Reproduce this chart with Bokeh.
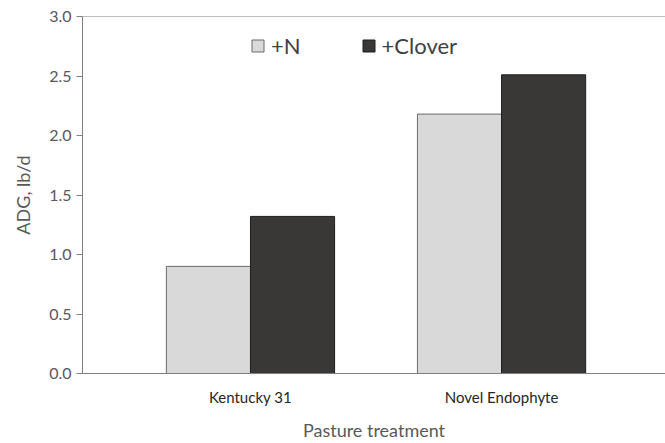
from bokeh.plotting import figure
from bokeh.models import ColumnDataSource, Legend, LegendItem, Span, FixedTicker, NumeralTickFormatter, Range1d
from bokeh.embed import file_html
from bokeh.resources import INLINE

categories = ["Kentucky 31", "Novel Endophyte"]
series_names = ["+N", "+Clover"]
n_values = [0.90, 2.18]
clover_values = [1.32, 2.51]
y_ticks = [0.0, 0.5, 1.0, 1.5, 2.0, 2.5, 3.0]

FONT = "Lato"
GRAY = "#595959"

xpos = [1, 2]
bw = 0.335
src = ColumnDataSource(dict(
    xn=[x - bw / 2 for x in xpos],
    xc=[x + bw / 2 for x in xpos],
    n=n_values,
    c=clover_values,
))

p = figure(width=665, height=443, output_backend="svg", toolbar_location=None,
           x_range=Range1d(0.331, 2.653), y_range=Range1d(0, 3.0),
           min_border_left=82, min_border_right=0, min_border_top=16, min_border_bottom=70)
p.outline_line_color = None
p.grid.grid_line_color = None
p.background_fill_color = "white"
p.border_fill_color = "white"

r1 = p.vbar(x="xn", top="n", width=bw, source=src, fill_color="#d9d9d9",
            line_color="#6b6b6b", line_width=1)
r2 = p.vbar(x="xc", top="c", width=bw, source=src, fill_color="#3a3836",
            line_color="#1e1e1e", line_width=1)

p.add_layout(Span(location=3.0, dimension="width", line_color="#7f7f7f", line_width=1))

# y axis
ya = p.yaxis[0]
ya.ticker = FixedTicker(ticks=y_ticks)
ya.formatter = NumeralTickFormatter(format="0.0")
ya.axis_line_color = "#7f7f7f"
ya.major_tick_line_color = "#7f7f7f"
ya.major_tick_in = 0
ya.major_tick_out = 6
ya.minor_tick_line_color = None
ya.major_label_text_font = FONT
ya.major_label_text_font_size = "16px"
ya.major_label_text_color = GRAY
ya.major_label_standoff = 5
ya.axis_label = "ADG, lb/d"
ya.axis_label_text_font = FONT
ya.axis_label_text_font_size = "18px"
ya.axis_label_text_font_style = "normal"
ya.axis_label_text_color = GRAY
ya.axis_label_standoff = 12

# x axis
xa = p.xaxis[0]
xa.ticker = FixedTicker(ticks=xpos)
xa.major_label_overrides = {x: c for x, c in zip(xpos, categories)}
xa.axis_line_color = "#7f7f7f"
xa.major_tick_line_color = None
xa.minor_tick_line_color = None
xa.major_label_text_font = FONT
xa.major_label_text_font_size = "15px"
xa.major_label_text_color = "#262626"
xa.major_label_standoff = 8
xa.axis_label = "Pasture treatment"
xa.axis_label_text_font = FONT
xa.axis_label_text_font_size = "18px"
xa.axis_label_text_font_style = "normal"
xa.axis_label_text_color = GRAY
xa.axis_label_standoff = 10

legend = Legend(items=[LegendItem(label=series_names[0], renderers=[r1]),
                       LegendItem(label=series_names[1], renderers=[r2])],
                orientation="horizontal", location=(168, 314),
                glyph_width=15, glyph_height=15, label_standoff=6, spacing=60,
                padding=0, margin=0, border_line_color=None, background_fill_alpha=0,
                label_text_font=FONT, label_text_font_size="22px", label_text_color="#404040")
p.add_layout(legend, "center")

open("out.html", "w").write(file_html(p, INLINE))
